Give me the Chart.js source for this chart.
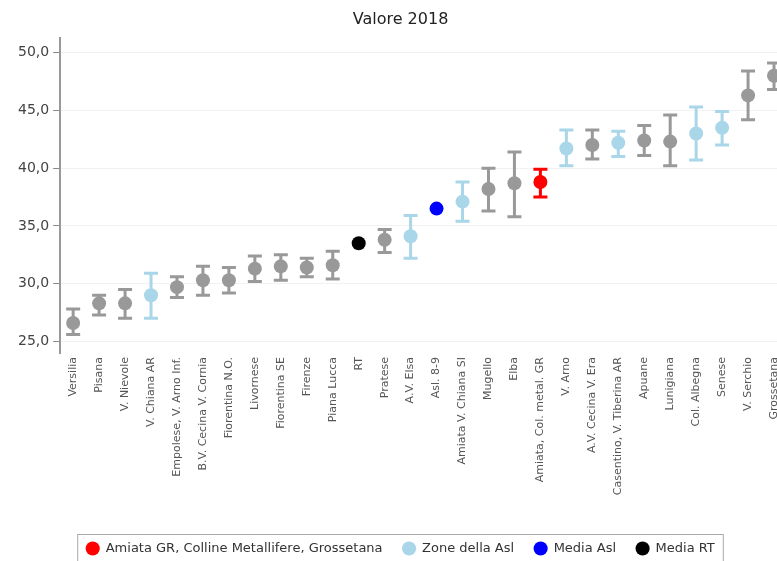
<!DOCTYPE html>
<html>
<head>
<meta charset="utf-8">
<script src="https://cdn.jsdelivr.net/npm/chart.js@4"></script>
<style>
  body { margin: 0; background: #fff; overflow: hidden; }
  #wrap { width: 777px; height: 561px; overflow: hidden; }
</style>
</head>
<body>
<div id="wrap"><canvas id="chart" width="845" height="565"></canvas></div>
<script>
const labels = [
  'Versilia', 'Pisana', 'V. Nievole', 'V. Chiana AR', 'Empolese, V. Arno Inf.',
  'B.V. Cecina V. Cornia', 'Fiorentina N.O.', 'Livornese', 'Fiorentina SE', 'Firenze',
  'Piana Lucca', 'RT', 'Pratese', 'A.V. Elsa', 'Asl. 8-9',
  'Amiata V. Chiana SI', 'Mugello', 'Elba', 'Amiata, Col. metal. GR', 'V. Arno',
  'A.V. Cecina V. Era', 'Casentino, V. Tiberina AR', 'Apuane', 'Lunigiana', 'Col. Albegna',
  'Senese', 'V. Serchio', 'Grossetana'
];
const values = [
  26.6, 28.3, 28.3, 29.0, 29.7, 30.3, 30.3, 31.3, 31.5, 31.4,
  31.6, 33.5, 33.8, 34.1, 36.5, 37.1, 38.2, 38.7, 38.8, 41.7,
  42.0, 42.2, 42.4, 42.3, 43.0, 43.5, 46.3, 48.0
];
const lows = [
  25.6, 27.3, 27.0, 27.0, 28.8, 29.0, 29.2, 30.2, 30.3, 30.6,
  30.4, null, 32.7, 32.2, null, 35.4, 36.3, 35.8, 37.5, 40.2,
  40.8, 41.0, 41.1, 40.2, 40.7, 42.0, 44.2, 46.8
];
const highs = [
  27.8, 29.0, 29.5, 30.9, 30.6, 31.5, 31.4, 32.4, 32.5, 32.2,
  32.8, null, 34.7, 35.9, null, 38.8, 40.0, 41.4, 39.9, 43.3,
  43.3, 43.2, 43.7, 44.6, 45.3, 44.9, 48.4, 49.1
];
// z = zona, a = zona della Asl, s = selezione, m = media Asl, r = media RT
const groups = [
  'z', 'z', 'z', 'a', 'z', 'z', 'z', 'z', 'z', 'z',
  'z', 'r', 'z', 'a', 'm', 'a', 'z', 'z', 's', 'a',
  'z', 'a', 'z', 'z', 'a', 'a', 'z', 'z'
];
const yTicks = [25, 30, 35, 40, 45, 50];

const groupInfo = {
  s: { label: 'Amiata GR, Colline Metallifere, Grossetana', color: '#ff0000' },
  a: { label: 'Zone della Asl', color: '#a9d6e8' },
  m: { label: 'Media Asl', color: '#0000ff' },
  r: { label: 'Media RT', color: '#000000' },
  z: { label: 'Zone', color: '#999999' }
};
const font = 'DejaVu Sans';

const datasets = ['s', 'a', 'm', 'r', 'z'].map(g => ({
  label: groupInfo[g].label,
  group: g,
  data: values.map((v, i) => groups[i] === g ? v : null),
  backgroundColor: groupInfo[g].color,
  borderColor: groupInfo[g].color,
  pointRadius: 7,
  pointHoverRadius: 7,
  pointBorderWidth: 0,
  showLine: false
}));

const errorBars = {
  id: 'errorBars',
  beforeDatasetsDraw(chart) {
    const ctx = chart.ctx;
    const xs = chart.scales.x, ys = chart.scales.y;
    ctx.save();
    ctx.lineWidth = 3;
    for (let i = 0; i < values.length; i++) {
      if (lows[i] == null || highs[i] == null) continue;
      const x = xs.getPixelForValue(i);
      const yl = ys.getPixelForValue(lows[i]);
      const yh = ys.getPixelForValue(highs[i]);
      ctx.strokeStyle = groupInfo[groups[i]].color;
      ctx.beginPath();
      ctx.moveTo(x, yl); ctx.lineTo(x, yh);
      ctx.moveTo(x - 7, yl); ctx.lineTo(x + 7, yl);
      ctx.moveTo(x - 7, yh); ctx.lineTo(x + 7, yh);
      ctx.stroke();
    }
    ctx.restore();
  }
};

const legendBox = {
  id: 'legendBox',
  afterDraw(chart) {
    const boxes = chart.legend && chart.legend.legendHitBoxes;
    if (!boxes || !boxes.length) return;
    const first = boxes[0], last = boxes[boxes.length - 1];
    const ctx = chart.ctx;
    ctx.save();
    ctx.strokeStyle = '#aaaaaa';
    ctx.lineWidth = 1;
    ctx.strokeRect(first.left - 8.5, first.top - 7.5, last.left + last.width - first.left + 17, first.height + 15);
    ctx.restore();
  }
};

new Chart(document.getElementById('chart'), {
  type: 'line',
  data: { labels: labels, datasets: datasets },
  plugins: [errorBars, legendBox],
  options: {
    responsive: false,
    animation: false,
    layout: { padding: { left: 14, right: 58, top: 0, bottom: 0 } },
    plugins: {
      title: {
        display: true,
        text: 'Valore 2018',
        color: '#222',
        font: { family: font, size: 16, weight: 'normal' },
        padding: { top: 10, bottom: 9 }
      },
      legend: {
        position: 'bottom',
        labels: {
          filter: item => item.text !== groupInfo.z.label,
          usePointStyle: true,
          pointStyle: 'circle',
          boxWidth: 13,
          boxHeight: 10,
          padding: 20,
          color: '#333',
          font: { family: font, size: 13 }
        }
      },
      tooltip: { enabled: false }
    },
    scales: {
      x: {
        offset: true,
        grid: { display: false, drawTicks: false },
        border: { display: false },
        afterFit: scale => { scale.height = 169; },
        ticks: {
          autoSkip: false,
          maxRotation: 90,
          minRotation: 90,
          color: '#555',
          padding: 4,
          font: { family: font, size: 11 }
        }
      },
      y: {
        min: 24,
        max: 51.25,
        afterBuildTicks: scale => { scale.ticks = yTicks.map(v => ({ value: v })); },
        grid: { color: 'rgba(0,0,0,0.05)', tickColor: '#888', tickLength: 7 },
        border: { color: '#999', width: 2 },
        ticks: {
          color: '#444',
          padding: 4,
          font: { family: font, size: 14 },
          callback: v => v.toFixed(1).replace('.', ',')
        }
      }
    }
  }
});
</script>
</body>
</html>
